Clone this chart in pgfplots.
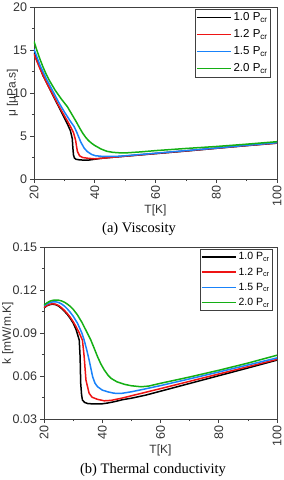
\documentclass[border=0pt]{standalone}
\usepackage{fontspec}
\setmainfont{Liberation Sans}
\newfontfamily\capfont{Liberation Serif}
\usepackage{pgfplots}
\usepackage{pgfplotstable}
\pgfplotsset{compat=1.18}
\definecolor{cblack}{RGB}{0,0,0}
\definecolor{cred}{RGB}{238,20,20}
\definecolor{cblue}{RGB}{25,130,250}
\definecolor{cgreen}{RGB}{20,175,20}

\pgfplotstableread{
T v
20 14.7
21 13.8
22 12.9
23 12.0
24 11.3
25 10.6
26 9.9
27 9.2
28 8.5
29 7.8
30 7.1
31 6.4
32 5.6
32.6 4.7
32.8 3.6
33.0 2.8
33.3 2.45
33.8 2.3
35 2.22
36.5 2.2
38 2.2
40 2.3
42 2.4
45 2.5
50 2.65
60 2.95
70 3.25
80 3.57
90 3.88
100 4.17
}\muA
\pgfplotstableread{
T v
20 14.5
22 12.8
24 11.3
26 9.95
28 8.6
30 7.35
31 6.75
32 6.1
33 5.4
33.7 4.5
34.0 3.8
34.3 3.2
35 2.7
36 2.5
38 2.4
40 2.35
42 2.4
45 2.5
50 2.66
60 2.97
70 3.27
80 3.58
90 3.9
100 4.18
}\muB
\pgfplotstableread{
T v
20 15.1
22 13.2
24 11.7
26 10.35
28 9.0
30 7.8
32 6.7
33.2 6.1
34 5.5
35.4 4.3
36.5 3.6
37.5 3.2
39 2.85
40.3 2.7
43 2.62
47 2.63
50 2.7
55 2.85
60 3.0
70 3.3
80 3.6
90 3.92
100 4.22
}\muC
\pgfplotstableread{
T v
20 16.0
21 14.9
22 13.9
23 13.0
24 12.2
25 11.5
26 10.9
27 10.3
28 9.8
29 9.3
30 8.85
31 8.4
32 7.8
33 7.2
34 6.6
35 5.95
36 5.35
37 4.85
38 4.45
39 4.15
40 3.9
42 3.5
44 3.22
46 3.1
48 3.05
50 3.03
55 3.15
60 3.3
70 3.55
80 3.78
90 4.05
100 4.34
}\muD

\pgfplotstableread{
T k
20 0.1075
21 0.1090
22 0.1098
23 0.1101
24 0.1098
25 0.1088
26 0.1072
27 0.1052
28 0.1030
29 0.1002
30 0.0970
31 0.0925
31.6 0.0885
32.1 0.0850
32.4 0.0734
32.6 0.0550
32.9 0.0470
33.2 0.0432
34 0.0415
35 0.0408
37 0.0405
40 0.0406
42 0.0412
44 0.0420
47 0.0435
50 0.0445
55 0.0467
60 0.0494
70 0.0548
80 0.0602
90 0.0656
100 0.0711
}\kA
\pgfplotstableread{
T k
20 0.1078
21 0.1092
22 0.1101
23 0.1104
24 0.1101
25 0.1092
26 0.1077
27 0.1058
28 0.1036
29 0.1010
30 0.0980
31 0.0945
32 0.0905
33.2 0.0850
33.8 0.0734
34.4 0.0572
35.5 0.0479
36.5 0.0452
38.4 0.0437
40.7 0.0427
43 0.0430
46.4 0.0444
50 0.0462
55 0.0487
60 0.0512
70 0.0563
80 0.0614
90 0.0665
100 0.0716
}\kB
\pgfplotstableread{
T k
20 0.1090
21 0.1103
22 0.1112
23 0.1117
24 0.1118
25 0.1113
26 0.1103
27 0.1088
28 0.1068
29 0.1045
30 0.1018
31.5 0.0968
33 0.0900
33.8 0.0850
34.7 0.0780
35.5 0.0711
36.7 0.0595
37.5 0.0550
38.4 0.0525
40 0.0502
41.8 0.0490
44 0.0480
46.4 0.0478
50 0.0490
55 0.0511
60 0.0533
70 0.0580
80 0.0628
90 0.0677
100 0.0726
}\kC
\pgfplotstableread{
T k
20 0.1095
21 0.1110
22 0.1122
23 0.1128
24 0.1130
25 0.1129
26 0.1124
27 0.1115
28 0.1102
29 0.1086
30 0.1066
31.5 0.1026
33 0.0975
34.5 0.0915
36.1 0.0850
37.3 0.0790
38.4 0.0734
39.5 0.0685
40.7 0.0642
42 0.0605
43 0.0584
45 0.0560
47.6 0.0542
50 0.0532
53.3 0.0525
56 0.0530
60 0.0549
70 0.0593
80 0.0640
90 0.0690
100 0.0745
}\kD

\pgfplotsset{
  myax/.style={
    scale only axis,
    xmin=20, xmax=100,
    xtick={20,40,60,80,100},
    minor x tick num=1, minor y tick num=1,
    tick align=outside, tick pos=left,
    major tick length=3.5pt, minor tick length=2pt,
    axis line style={draw=black!75, line width=0.9pt},
    every tick/.style={draw=black!75, line width=0.7pt},
    /pgf/number format/assume math mode=true,
    tick label style={font=\fontsize{12.5}{13}\selectfont, text=black!80},
    xticklabel style={rotate=90, anchor=east},
    label style={font=\fontsize{12}{13}\selectfont, text=black!80},
    xlabel={T[K]},
    legend cell align=left,
    legend image code/.code={\draw[#1,line width=1.6pt] (0pt,0pt) -- (34pt,0pt);},
    every axis plot/.append style={line width=1.5pt, mark=none},
  }
}

\begin{document}
\begin{tikzpicture}
\useasboundingbox (0,0) rectangle (284pt,-480pt);
\begin{axis}[myax,
  at={(34pt,-179pt)}, anchor=south west,
  width=243pt, height=172pt,
  ymin=0, ymax=20, ytick={0,5,10,15,20},
  ylabel={μ [μPa.s]},
  xlabel style={at={(axis description cs:0.5,-0.18)}, anchor=center},
  ylabel style={at={(axis description cs:-0.088,0.5)}, anchor=center},
  legend style={at={(1,1)}, anchor=north east, xshift=-6pt, yshift=-2pt,
    draw=black!75, line width=0.7pt, font=\fontsize{11.5}{12}\selectfont,
    inner xsep=1pt, inner ysep=1.5pt, row sep=3.5pt},
]
\addplot[cblack] table[x=T,y=v] {\muA};
\addplot[cred] table[x=T,y=v] {\muB};
\addplot[cblue] table[x=T,y=v] {\muC};
\addplot[cgreen] table[x=T,y=v] {\muD};
\legend{1.0 P\textsubscript{cr},1.2 P\textsubscript{cr},1.5 P\textsubscript{cr},2.0 P\textsubscript{cr}}
\end{axis}
\node[font=\capfont\fontsize{14.5}{15}\selectfont] at (139pt,-229pt) {(a) Viscosity};

\begin{axis}[myax,
  at={(44pt,-419pt)}, anchor=south west,
  width=233pt, height=172pt,
  ymin=0.03, ymax=0.15, ytick={0.03,0.06,0.09,0.12,0.15},
  yticklabel style={/pgf/number format/fixed, /pgf/number format/precision=2, /pgf/number format/fixed zerofill},
  scaled y ticks=false,
  ylabel={k [mW/m.K]},
  xlabel style={at={(axis description cs:0.5,-0.18)}, anchor=center},
  ylabel style={at={(axis description cs:-0.155,0.5)}, anchor=center},
  legend style={at={(1,1)}, anchor=north east, xshift=-4pt, yshift=-2pt,
    draw=black!75, line width=0.7pt, font=\fontsize{10.5}{11}\selectfont,
    inner xsep=1pt, inner ysep=1pt, row sep=2.5pt},
]
\addplot[cblack] table[x=T,y=k] {\kA};
\addplot[cred] table[x=T,y=k] {\kB};
\addplot[cblue] table[x=T,y=k] {\kC};
\addplot[cgreen] table[x=T,y=k] {\kD};
\legend{1.0 P\textsubscript{cr},1.2 P\textsubscript{cr},1.5 P\textsubscript{cr},2.0 P\textsubscript{cr}}
\end{axis}
\node[font=\capfont\fontsize{14.5}{15}\selectfont] at (153pt,-470pt) {(b) Thermal conductivity};
\end{tikzpicture}
\end{document}
